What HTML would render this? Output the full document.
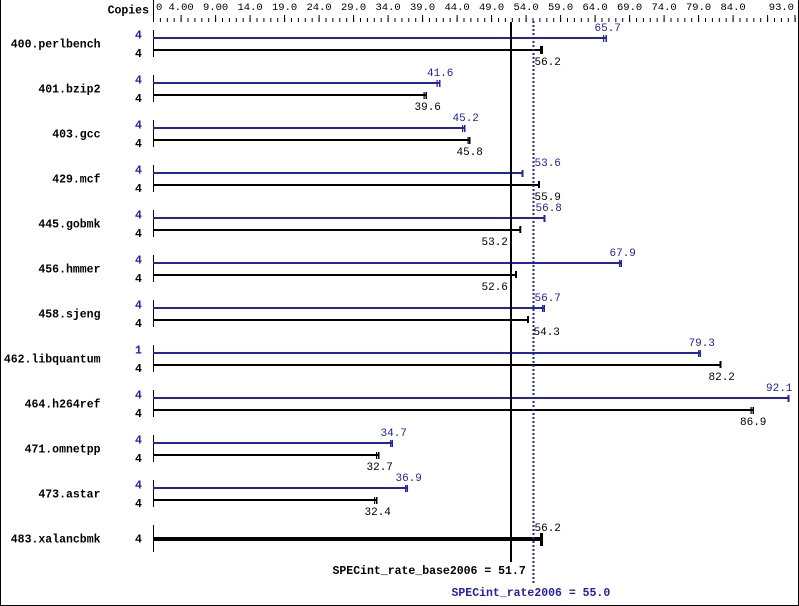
<!DOCTYPE html>
<html>
<head>
<meta charset="utf-8">
<style>
html,body{margin:0;padding:0;background:#fff;}
svg{display:block;}
text{font-family:"Liberation Mono","DejaVu Sans Mono",monospace;}
.b{font-weight:bold;font-size:11.5px;}
.t{font-size:10.5px;}
.v{font-size:11px;}
.bl{fill:#2222aa;}
</style>
</head>
<body>
<svg width="799" height="606" viewBox="0 0 799 606" xmlns="http://www.w3.org/2000/svg">
<rect x="0" y="0" width="799" height="606" fill="#fff"/>
<!-- border -->
<rect x="0" y="0" width="1" height="606" fill="#000"/>
<rect x="798" y="0" width="1" height="606" fill="#000"/>
<rect x="0" y="605" width="799" height="1" fill="#000"/>

<!-- top axis -->
<rect x="153" y="0" width="1" height="22" fill="#000"/>
<line x1="153" y1="20" x2="796" y2="20" stroke="#000" stroke-width="4" stroke-dasharray="1 5.9"/>
<line x1="180.6" y1="18.5" x2="770" y2="18.5" stroke="#000" stroke-width="7" stroke-dasharray="1 33.5"/>
<rect x="794.5" y="15" width="1" height="7" fill="#000"/>

<text class="b" x="149" y="13.5" text-anchor="end">Copies</text>
<g class="t">
<text x="156" y="10">0</text>
<text x="181.1" y="10" text-anchor="middle">4.00</text>
<text x="215.6" y="10" text-anchor="middle">9.00</text>
<text x="250.1" y="10" text-anchor="middle">14.0</text>
<text x="284.6" y="10" text-anchor="middle">19.0</text>
<text x="319.1" y="10" text-anchor="middle">24.0</text>
<text x="353.6" y="10" text-anchor="middle">29.0</text>
<text x="388.1" y="10" text-anchor="middle">34.0</text>
<text x="422.6" y="10" text-anchor="middle">39.0</text>
<text x="457.1" y="10" text-anchor="middle">44.0</text>
<text x="491.6" y="10" text-anchor="middle">49.0</text>
<text x="526.1" y="10" text-anchor="middle">54.0</text>
<text x="560.6" y="10" text-anchor="middle">59.0</text>
<text x="595.1" y="10" text-anchor="middle">64.0</text>
<text x="629.6" y="10" text-anchor="middle">69.0</text>
<text x="664.1" y="10" text-anchor="middle">74.0</text>
<text x="698.6" y="10" text-anchor="middle">79.0</text>
<text x="733.1" y="10" text-anchor="middle">84.0</text>
<text x="794" y="10" text-anchor="end">93.0</text>
</g>

<!-- row axis segments -->
<g fill="#000">
<rect x="153" y="30" width="1" height="27"/>
<rect x="153" y="75" width="1" height="27"/>
<rect x="153" y="120" width="1" height="27"/>
<rect x="153" y="165" width="1" height="27"/>
<rect x="153" y="210" width="1" height="27"/>
<rect x="153" y="255" width="1" height="27"/>
<rect x="153" y="300" width="1" height="27"/>
<rect x="153" y="345" width="1" height="27"/>
<rect x="153" y="390" width="1" height="27"/>
<rect x="153" y="435" width="1" height="27"/>
<rect x="153" y="480" width="1" height="27"/>
<rect x="153" y="525" width="1" height="27"/>
</g>

<!-- blue bars -->
<g fill="#2222aa">
<rect x="153" y="37" width="453.8" height="2"/><rect x="603" y="35" width="1.2" height="7"/><rect x="605.5" y="35" width="1.5" height="7"/>
<rect x="153" y="82" width="287.5" height="2"/><rect x="436.5" y="80" width="1.2" height="7"/><rect x="439" y="80" width="1.5" height="7"/>
<rect x="153" y="127" width="312.4" height="2"/><rect x="462" y="125" width="1.2" height="7"/><rect x="464" y="125" width="1.5" height="7"/>
<rect x="153" y="172" width="370.3" height="2"/><rect x="521.5" y="170" width="2" height="7"/>
<rect x="153" y="217" width="392.4" height="2"/><rect x="543.5" y="215" width="2" height="7"/>
<rect x="153" y="262" width="469" height="2"/><rect x="619" y="260" width="1.2" height="7"/><rect x="620.5" y="260" width="1.5" height="7"/>
<rect x="153" y="307" width="391.7" height="2"/><rect x="542" y="305" width="1.2" height="7"/><rect x="543.5" y="305" width="1.5" height="7"/>
<rect x="153" y="352" width="547.7" height="2"/><rect x="698" y="350" width="1.2" height="7"/><rect x="699.5" y="350" width="1.5" height="7"/>
<rect x="153" y="397" width="636" height="2"/><rect x="787.5" y="395" width="2" height="7"/>
<rect x="153" y="442" width="239.9" height="2"/><rect x="390" y="440" width="1.2" height="7"/><rect x="391.5" y="440" width="1.5" height="7"/>
<rect x="153" y="487" width="255.1" height="2"/><rect x="405" y="485" width="1.2" height="7"/><rect x="406.5" y="485" width="1.5" height="7"/>
</g>

<!-- black bars -->
<g fill="#000">
<rect x="153" y="49" width="388.3" height="2"/><rect x="540" y="46" width="3" height="8"/>
<rect x="153" y="94" width="273.7" height="2"/><rect x="423.5" y="92" width="1.2" height="7"/><rect x="425.5" y="92" width="1.5" height="7"/>
<rect x="153" y="139" width="316.5" height="2"/><rect x="467.5" y="137" width="1.2" height="7"/><rect x="469" y="137" width="1.5" height="7"/>
<rect x="153" y="184" width="386.2" height="2"/><rect x="538" y="181" width="2" height="7"/>
<rect x="153" y="229" width="367.6" height="2"/><rect x="519.3" y="226" width="2" height="7"/>
<rect x="153" y="274" width="363.4" height="2"/><rect x="515" y="271" width="2" height="7"/>
<rect x="153" y="319" width="375.2" height="2"/><rect x="527" y="316" width="2" height="7"/>
<rect x="153" y="364" width="567.7" height="2"/><rect x="719.5" y="361" width="2" height="7"/>
<rect x="153" y="409" width="600.1" height="2"/><rect x="750.5" y="407" width="1.2" height="7"/><rect x="752.5" y="407" width="1.5" height="7"/>
<rect x="153" y="454" width="226.1" height="2"/><rect x="376" y="452" width="1.2" height="7"/><rect x="378" y="452" width="1.5" height="7"/>
<rect x="153" y="499" width="224.1" height="2"/><rect x="374" y="497" width="1.2" height="7"/><rect x="376" y="497" width="1.5" height="7"/>
<rect x="153" y="537" width="388.3" height="4"/><rect x="540" y="533" width="3" height="13"/>
</g>

<!-- reference lines -->
<rect x="510" y="22" width="2" height="540" fill="#000"/>
<line x1="533.5" y1="21" x2="533.5" y2="583" stroke="#2222aa" stroke-width="2" stroke-dasharray="2 2"/>

<!-- benchmark names -->
<g class="b" text-anchor="end">
<text x="100.5" y="47.5">400.perlbench</text>
<text x="100.5" y="92.5">401.bzip2</text>
<text x="100.5" y="137.5">403.gcc</text>
<text x="100.5" y="182.5">429.mcf</text>
<text x="100.5" y="227.5">445.gobmk</text>
<text x="100.5" y="272.5">456.hmmer</text>
<text x="100.5" y="317.5">458.sjeng</text>
<text x="100.5" y="362.5">462.libquantum</text>
<text x="100.5" y="407.5">464.h264ref</text>
<text x="100.5" y="452.5">471.omnetpp</text>
<text x="100.5" y="497.5">473.astar</text>
<text x="100.5" y="542.5">483.xalancbmk</text>
</g>

<!-- copies -->
<g class="b" text-anchor="middle">
<text class="bl" x="138.5" y="38.5">4</text><text x="138.5" y="57">4</text>
<text class="bl" x="138.5" y="83.5">4</text><text x="138.5" y="102">4</text>
<text class="bl" x="138.5" y="128.5">4</text><text x="138.5" y="147">4</text>
<text class="bl" x="138.5" y="173.5">4</text><text x="138.5" y="192">4</text>
<text class="bl" x="138.5" y="218.5">4</text><text x="138.5" y="237">4</text>
<text class="bl" x="138.5" y="263.5">4</text><text x="138.5" y="282">4</text>
<text class="bl" x="138.5" y="308.5">4</text><text x="138.5" y="327">4</text>
<text class="bl" x="138.5" y="353.5">1</text><text x="138.5" y="372">4</text>
<text class="bl" x="138.5" y="398.5">4</text><text x="138.5" y="417">4</text>
<text class="bl" x="138.5" y="443.5">4</text><text x="138.5" y="462">4</text>
<text class="bl" x="138.5" y="488.5">4</text><text x="138.5" y="507">4</text>
<text x="138.5" y="542.5">4</text>
</g>

<!-- value labels -->
<g class="v">
<text class="bl" x="594.5" y="31">65.7</text><text x="534.5" y="65">56.2</text>
<text class="bl" x="427" y="76">41.6</text><text x="414.5" y="110">39.6</text>
<text class="bl" x="452.5" y="121">45.2</text><text x="456.5" y="155">45.8</text>
<text class="bl" x="534.5" y="166">53.6</text><text x="534.5" y="200">55.9</text>
<text class="bl" x="535.5" y="211">56.8</text><text x="481.5" y="245">53.2</text>
<text class="bl" x="609.5" y="256">67.9</text><text x="481.5" y="290">52.6</text>
<text class="bl" x="534.5" y="301">56.7</text><text x="533.5" y="335">54.3</text>
<text class="bl" x="688.5" y="346">79.3</text><text x="708.5" y="380">82.2</text>
<text class="bl" x="766" y="391">92.1</text><text x="740" y="425">86.9</text>
<text class="bl" x="380.5" y="436">34.7</text><text x="366.5" y="470">32.7</text>
<text class="bl" x="395.5" y="481">36.9</text><text x="364.5" y="515">32.4</text>
<text x="534.5" y="531">56.2</text>
</g>

<!-- summary -->
<text class="b" x="332.5" y="574">SPECint_rate_base2006 = 51.7</text>
<text class="b bl" x="451.5" y="596">SPECint_rate2006 = 55.0</text>
</svg>
</body>
</html>
